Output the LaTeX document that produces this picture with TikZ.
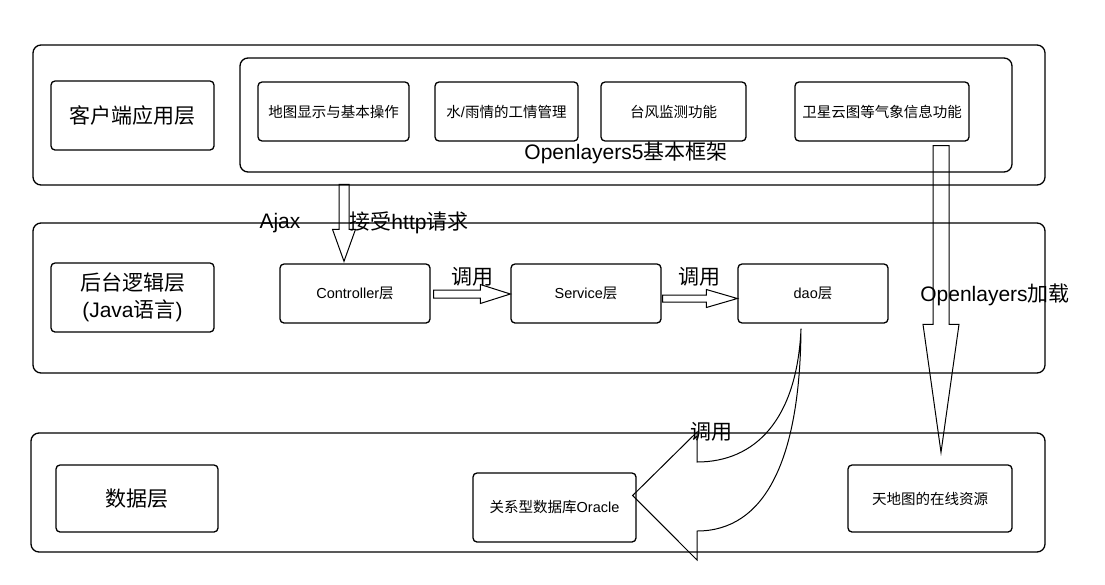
\documentclass[tikz,border=0pt]{standalone}
\usepackage{fontspec}
\setmainfont{Liberation Sans}
\newfontfamily\cjk{Noto Sans CJK SC}
\newcommand{\zh}[1]{{\cjk #1}}
\usetikzlibrary{calc}
\begin{document}
\begin{tikzpicture}[x=1pt,y=-1pt,
  layer/.style={draw, line width=1.3pt, rounded corners=8pt, inner sep=0pt},
  box/.style={draw, line width=1.3pt, rounded corners=4pt, inner sep=0pt, align=center, font=\fontsize{14.5}{17}\selectfont},
  bigbox/.style={box, font=\fontsize{21}{27}\selectfont},
  lbl/.style={inner sep=0pt, font=\fontsize{21}{27}\selectfont},
  blk/.style={draw, line width=1pt, line join=miter}]
\useasboundingbox (0,0) rectangle (1105,584);
% layers
\node[layer, minimum width=1012, minimum height=140] (L1) at (539,115) {};
\node[layer, minimum width=772, minimum height=114] (ol5) at (626,115) {};
\node[layer, minimum width=1012, minimum height=150] (L2) at (539,298) {};
\node[layer, minimum width=1014, minimum height=119] (L3) at (538,492.5) {};
% client layer
\node[bigbox, minimum width=163, minimum height=69] (client) at (132.5,115.5) {\zh{客户端应用层}};
\node[box, minimum width=151, minimum height=59] (s1) at (333.5,111.5) {\zh{地图显示与基本操作}};
\node[box, minimum width=143, minimum height=59] (s2) at (506.5,111.5) {\zh{水}/\zh{雨情的工情管理}};
\node[box, minimum width=145, minimum height=59] (s3) at (673.5,111.5) {\zh{台风监测功能}};
\node[box, minimum width=174, minimum height=59] (s4) at (882,111.5) {\zh{卫星云图等气象信息功能}};
\node[lbl] (ol5lbl) at (626,153) {Openlayers5\zh{基本框架}};
% backend layer
\node[bigbox, minimum width=163, minimum height=69] (back) at (132.5,297.5) {\zh{后台逻辑层}\\(Java\zh{语言})};
\node[box, minimum width=150, minimum height=59] (ctrl) at (355,293.5) {Controller\zh{层}};
\node[box, minimum width=150, minimum height=59] (svc) at (586,293.5) {Service\zh{层}};
\node[box, minimum width=150, minimum height=59] (dao) at (813,293.5) {dao\zh{层}};
% data layer
\node[bigbox, minimum width=162, minimum height=67] (data) at (137,498.5) {\zh{数据层}};
\node[box, minimum width=163, minimum height=69] (ora) at (554.5,507.5) {\zh{关系型数据库}Oracle};
\node[box, minimum width=164, minimum height=67] (tdt) at (930,498.5) {\zh{天地图的在线资源}};
% Ajax arrow
\coordinate (ajS) at ($(ctrl.north)+(-11,-79)$);
\coordinate (ajE) at ($(ctrl.north)+(-11,-2)$);
\draw[blk] let \p1=(ajS), \p2=(ajE) in
  (\x1-5pt,\y1) -- (\x1+5pt,\y1) -- (\x1+5pt,\y2+32pt) -- (\x1+11.5pt,\y2+32pt)
  -- (\x2,\y2) -- (\x1-11.5pt,\y2+32pt) -- (\x1-5pt,\y2+32pt) -- cycle;
% Controller -> Service
\coordinate (a1S) at ($(ctrl.east)+(3,0.5)$);
\coordinate (a1E) at (svc.west |- a1S);
\draw[blk] let \p1=(a1S), \p2=(a1E) in
  (\x1,\y1+4pt) -- (\x2-30pt,\y1+4pt) -- (\x2-30pt,\y1+9.5pt) -- (\x2,\y1)
  -- (\x2-30pt,\y1-9.5pt) -- (\x2-30pt,\y1-4pt) -- (\x1,\y1-4pt) -- cycle;
% Service -> dao
\coordinate (a2S) at ($(svc.east)+(1,5)$);
\coordinate (a2E) at (dao.west |- a2S);
\draw[blk] let \p1=(a2S), \p2=(a2E) in
  (\x1,\y1+3.5pt) -- (\x2-31pt,\y1+3.5pt) -- (\x2-31pt,\y1+9pt) -- (\x2,\y1)
  -- (\x2-31pt,\y1-9pt) -- (\x2-31pt,\y1-3.5pt) -- (\x1,\y1-3.5pt) -- cycle;
% Openlayers loading arrow
\coordinate (olS) at ($(s4.south)+(59,4)$);
\coordinate (olE) at ($(tdt.north)+(11,-12)$);
\draw[blk] let \p1=(olS), \p2=(olE) in
  (\x1-8pt,\y1) -- (\x1+8pt,\y1) -- (\x1+8pt,\y2+128pt) -- (\x1+18pt,\y2+128pt)
  -- (\x2,\y2) -- (\x1-18pt,\y2+128pt) -- (\x1-8pt,\y2+128pt) -- cycle;
% curved arrow dao -> Oracle
\coordinate (cS) at ($(dao.south)+(-12,5)$);
\coordinate (cT) at ($(ora.east)+(-4,-12)$);
\draw[blk] (cS) .. controls (797,420) and (755,462) .. (697,462) -- (697,432)
  -- (cT) -- (697,560) -- (697,531) .. controls (765,531) and (800,460) .. (cS) -- cycle;
% labels
\node[lbl] (ajax) at (280,223) {Ajax};
\node[lbl] (http) at (409,223) {\zh{接受}http\zh{请求}};
\node[lbl] (call1) at (472,277) {\zh{调用}};
\node[lbl] (call2) at (699,277) {\zh{调用}};
\node[lbl] (call3) at (711,432) {\zh{调用}};
\node[lbl] (olload) at (995,295) {Openlayers\zh{加载}};
\end{tikzpicture}
\end{document}
